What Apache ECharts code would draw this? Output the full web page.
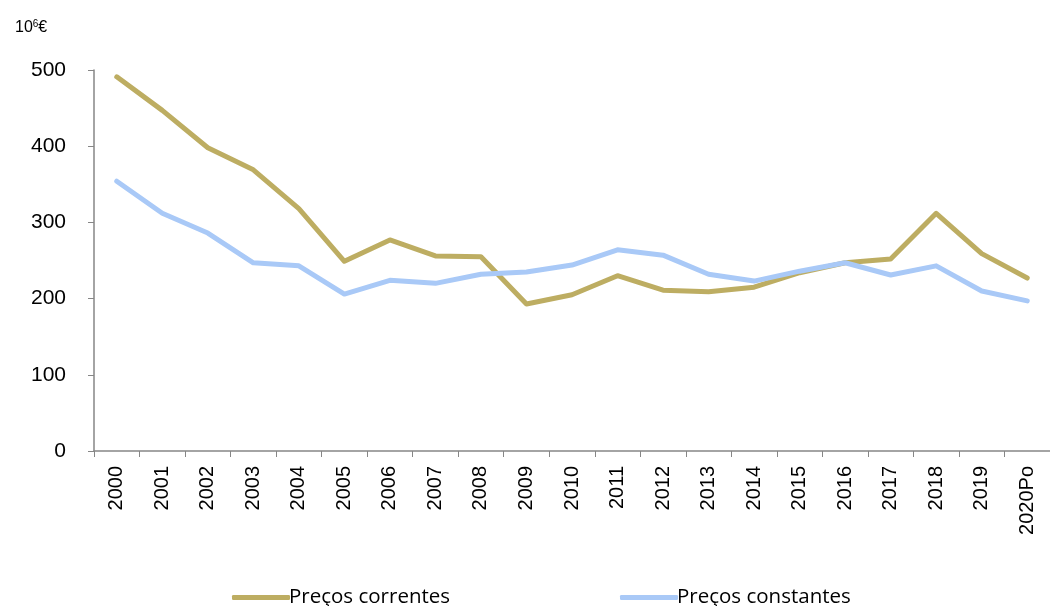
<!DOCTYPE html>
<html>
<head>
<meta charset="utf-8">
<script src="https://cdn.jsdelivr.net/npm/echarts@6/dist/echarts.min.js"></script>
<style>
  html, body { margin: 0; padding: 0; background: #fff; }
  #chart { width: 1050px; height: 606px; }
</style>
</head>
<body>
<div id="chart"></div>
<script>
var years = ['2000', '2001', '2002', '2003', '2004', '2005', '2006', '2007', '2008', '2009',
  '2010', '2011', '2012', '2013', '2014', '2015', '2016', '2017', '2018', '2019', '2020Po'];
var correntes = [491, 447, 398, 369, 318, 249, 277, 256, 255, 193, 205, 230, 211, 209, 215, 234, 247, 252, 312, 259, 227];
var constantes = [354, 312, 286, 247, 243, 206, 224, 220, 232, 235, 244, 264, 257, 232, 223, 236, 247, 231, 243, 210, 197];
var yTicks = [0, 100, 200, 300, 400, 500];

var axisGrey = '#868686';
var chart = echarts.init(document.getElementById('chart'));

// legend text style shared by both entries
var legendText = { fontFamily: 'Open Sans', fontSize: 20.5, color: '#000', padding: [0, 0, 0, -6] };

chart.setOption({
  animation: false,
  title: {
    left: 10, top: 14,
    text: '{a|10}{b|6}{a|€}',
    textStyle: {
      fontWeight: 'normal',
      rich: {
        a: { fontFamily: 'Liberation Sans', fontSize: 16, fontWeight: 'normal', color: '#000' },
        b: { fontFamily: 'Liberation Sans', fontSize: 10, fontWeight: 'normal', color: '#000', verticalAlign: 'top', padding: [0, 0, 7, 0] }
      }
    }
  },
  legend: [
    {
      left: 227, top: 582,
      icon: 'roundRect', itemWidth: 58, itemHeight: 5, itemGap: 0,
      textStyle: legendText,
      data: ['Preços correntes']
    },
    {
      left: 615, top: 582,
      icon: 'roundRect', itemWidth: 58, itemHeight: 5, itemGap: 0,
      textStyle: legendText,
      data: ['Preços constantes']
    }
  ],
  grid: { left: 94, top: 70, width: 963, height: 381, containLabel: false },
  xAxis: {
    type: 'category',
    data: years,
    boundaryGap: true,
    axisLine: { lineStyle: { color: axisGrey, width: 1.5 } },
    axisTick: { show: true, length: 6, lineStyle: { color: axisGrey } },
    axisLabel: {
      rotate: 90, margin: 15, interval: 0,
      fontFamily: 'Liberation Sans', fontSize: 20, color: '#000'
    }
  },
  yAxis: {
    type: 'value',
    min: yTicks[0], max: yTicks[yTicks.length - 1], interval: 100,
    splitLine: { show: false },
    axisLine: { show: true, lineStyle: { color: axisGrey, width: 1.5 } },
    axisTick: { show: true, length: 6, lineStyle: { color: axisGrey } },
    axisLabel: { margin: 28, fontFamily: 'Liberation Sans', fontSize: 21, color: '#000' }
  },
  series: [
    {
      name: 'Preços correntes',
      type: 'line',
      data: correntes,
      symbol: 'none',
      color: '#BDAD62',
      lineStyle: { width: 5, color: '#BDAD62', cap: 'round', join: 'round' }
    },
    {
      name: 'Preços constantes',
      type: 'line',
      data: constantes,
      symbol: 'none',
      color: '#A9C9F7',
      lineStyle: { width: 5, color: '#A9C9F7', cap: 'round', join: 'round' }
    }
  ]
});
</script>
</body>
</html>
